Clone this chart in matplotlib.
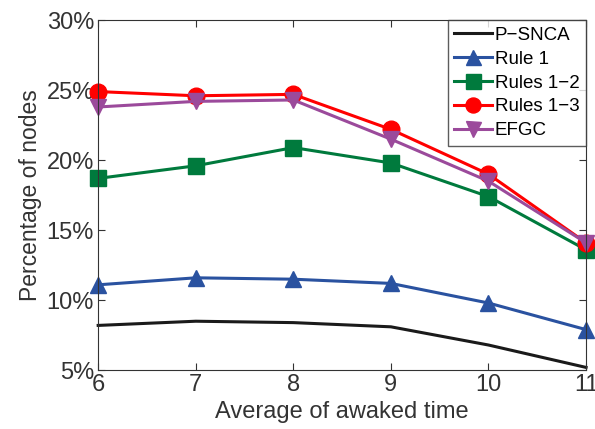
import matplotlib
matplotlib.use("Agg")
import matplotlib.pyplot as plt

x = [6, 7, 8, 9, 10, 11]
psnca = [8.2, 8.5, 8.4, 8.1, 6.8, 5.2]
rule1 = [11.1, 11.6, 11.5, 11.2, 9.8, 7.9]
rules12 = [18.7, 19.6, 20.9, 19.8, 17.4, 13.6]
rules13 = [24.9, 24.6, 24.7, 22.2, 19.0, 14.1]
efgc = [23.8, 24.2, 24.3, 21.5, 18.5, 14.1]
yticks = [5, 10, 15, 20, 25, 30]
ytick_labels = ["5%", "10%", "15%", "20%", "25%", "30%"]

plt.rcParams['font.family'] = ['Liberation Sans', 'DejaVu Sans']

fig = plt.figure(figsize=(5.95, 4.29), dpi=100)
ax = fig.add_axes([0.165, 0.137, 0.82, 0.816])

lw = 2.2
ax.plot(x, psnca, color='#1a1a1a', lw=lw, label='P\u2212SNCA')
ax.plot(x, rule1, color='#2a52a0', lw=lw, marker='^', ms=12, label='Rule 1')
ax.plot(x, rules12, color='#007a3d', lw=lw, marker='s', ms=12, label='Rules 1\u22122')
ax.plot(x, rules13, color='#ff0000', lw=lw, marker='o', ms=12, label='Rules 1\u22123')
ax.plot(x, efgc, color='#9b4a9b', lw=lw, marker='v', ms=12, label='EFGC')

ax.set_xlim(6, 11)
ax.set_ylim(5, 30)
ax.set_xticks(x)
ax.set_yticks(yticks)
ax.set_yticklabels(ytick_labels)
ax.tick_params(direction='in', top=True, right=True, labelsize=17, length=5, pad=3, colors='#333333')
ax.tick_params(axis='x', pad=3)
for s in ax.spines.values():
    s.set_color('#333333')
ax.set_xlabel('Average of awaked time', fontsize=17, labelpad=3, color='#333333')
ax.set_ylabel('Percentage of nodes', fontsize=16.5, labelpad=3, color='#333333')

leg = ax.legend(loc='upper right', fontsize=13.5, frameon=True, fancybox=False,
                edgecolor='#333333', handlelength=2.0, handletextpad=0.15,
                borderaxespad=0, borderpad=0.35, labelspacing=0.36, markerscale=0.9)
leg.get_frame().set_linewidth(1.0)

for lh in ax.get_lines():
    lh.set_clip_on(False)

fig.savefig('out.png', dpi=100)
